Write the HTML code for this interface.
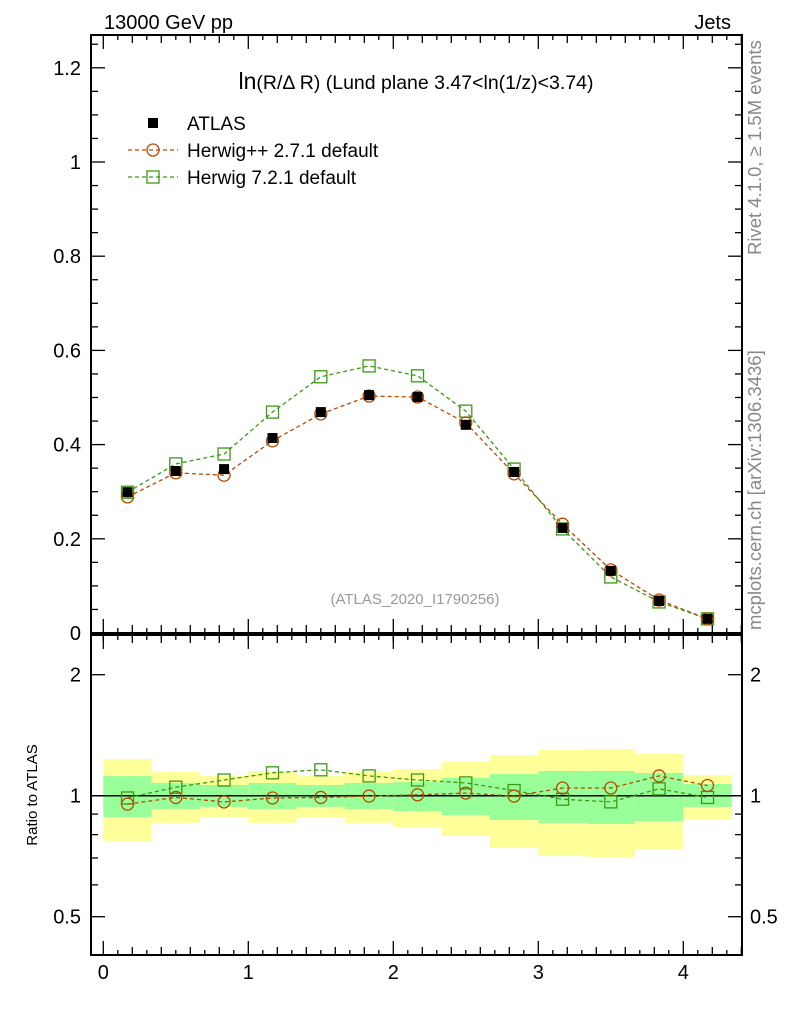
<!DOCTYPE html>
<html><head><meta charset="utf-8"><style>
body{margin:0;background:#fff;}
svg text{font-family:"Liberation Sans",sans-serif;}
</style></head><body>
<svg id="chart" width="786" height="1024" viewBox="0 0 786 1024" xmlns="http://www.w3.org/2000/svg">
<text x="104" y="29" font-size="20">13000 GeV pp</text>
<text x="731" y="29" font-size="20" text-anchor="end">Jets</text>
<text x="416" y="89" font-size="19.5" text-anchor="middle"><tspan font-size="23">ln</tspan>(R/Δ R) (Lund plane 3.47&lt;ln(1/z)&lt;3.74)</text>
<text transform="translate(761,255) rotate(-90)" font-size="18.5" fill="#888">Rivet 4.1.0, ≥ 1.5M events</text>
<text transform="translate(761,630) rotate(-90)" font-size="18.5" fill="#888">mcplots.cern.ch [arXiv:1306.3436]</text>
<text x="415" y="604" font-size="15" fill="#999" text-anchor="middle">(ATLAS_2020_I1790256)</text>
<text transform="translate(37,795) rotate(-90)" font-size="15" text-anchor="middle">Ratio to ATLAS</text>
<g id="bands"></g>
<g id="main"></g>
<g id="ratio"></g>
<g id="axes"></g>
<g>
<rect x="148" y="118" width="10" height="10" fill="#000"/>
<text x="187" y="130" font-size="19">ATLAS</text>
<line x1="128" y1="150" x2="178" y2="150" stroke="#b84a00" stroke-width="1.3" stroke-dasharray="4,3"/>
<circle cx="153" cy="150" r="6" fill="none" stroke="#b84a00" stroke-width="1.3"/>
<text x="187" y="157" font-size="19">Herwig++ 2.7.1 default</text>
<line x1="128" y1="177" x2="178" y2="177" stroke="#3a9a10" stroke-width="1.3" stroke-dasharray="4,3"/>
<rect x="147" y="171" width="12" height="12" fill="none" stroke="#3a9a10" stroke-width="1.3"/>
<text x="187" y="184" font-size="19">Herwig 7.2.1 default</text>
</g>
</svg>
<script>
const binCenters=[0.167,0.5,0.833,1.167,1.5,1.833,2.167,2.5,2.833,3.167,3.5,3.833,4.167];
const atlas=[0.299,0.344,0.348,0.414,0.469,0.505,0.501,0.442,0.342,0.223,0.132,0.068,0.030];
const herwigpp=[0.289,0.340,0.335,0.408,0.465,0.503,0.501,0.446,0.338,0.231,0.134,0.070,0.030];
const herwig7=[0.299,0.359,0.380,0.469,0.544,0.567,0.546,0.471,0.348,0.221,0.119,0.066,0.030];
const ratioPP=[0.953,0.99,0.965,0.987,0.99,0.998,1.005,1.015,0.998,1.045,1.045,1.12,1.06];
const ratio7=[0.987,1.05,1.094,1.14,1.16,1.12,1.094,1.076,1.03,0.98,0.965,1.04,0.99];
const bandTotalHi=[1.234,1.145,1.119,1.152,1.119,1.145,1.165,1.213,1.262,1.299,1.307,1.270,1.126];
const bandTotalLo=[0.772,0.856,0.885,0.856,0.880,0.856,0.836,0.794,0.741,0.708,0.704,0.737,0.875];
const bandStatHi=[1.119,1.076,1.063,1.076,1.063,1.076,1.081,1.107,1.132,1.152,1.152,1.139,1.069];
const bandStatLo=[0.885,0.927,0.938,0.927,0.938,0.927,0.916,0.895,0.870,0.856,0.851,0.865,0.938];
const xTickLabels=[0,1,2,3,4];
const yTickLabels=[0,0.2,0.4,0.6,0.8,1,1.2];
const ratioTickLabels=[0.5,1,2];

const NS="http://www.w3.org/2000/svg";
const L=91,R=742,T=35,MB=633,RT=635,RB=955;
const X=v=>103.3+v*145;
const Y=v=>MB-v*471;
const RY=v=>795.7-Math.log2(v)*121;
const binW=1/3;
function mk(tag,attrs,parent){const e=document.createElementNS(NS,tag);for(const k in attrs)e.setAttribute(k,attrs[k]);document.getElementById(parent).appendChild(e);return e;}

binCenters.forEach((c,i)=>{
  let e=mk('rect',{x:X(c-binW/2),y:RY(bandTotalHi[i]),width:X(c+binW/2)-X(c-binW/2),height:RY(bandTotalLo[i])-RY(bandTotalHi[i]),fill:'#ffff99'},'bands');
  
  
  e=mk('rect',{x:X(c-binW/2),y:RY(bandStatHi[i]),width:X(c+binW/2)-X(c-binW/2),height:RY(bandStatLo[i])-RY(bandStatHi[i]),fill:'#99ff99'},'bands');
  
  
});
let ul=mk('line',{x1:L,x2:R,y1:RY(1),y2:RY(1),stroke:'#000','stroke-width':1.5},'bands');



function series(vals,yf,color,shape,g,name){
  const p=mk('polyline',{points:binCenters.map((c,i)=>X(c)+','+yf(vals[i])).join(' '),fill:'none',stroke:color,'stroke-width':1.3,'stroke-dasharray':'4,3'},g);
  
  
  binCenters.forEach((c,i)=>{
    let m;
    if(shape==='circle') m=mk('circle',{cx:X(c),cy:yf(vals[i]),r:6,fill:'none',stroke:color,'stroke-width':1.3},g);
    else m=mk('rect',{x:X(c)-6,y:yf(vals[i])-6,width:12,height:12,fill:'none',stroke:color,'stroke-width':1.3},g);
    
    
  });
}
series(herwig7,Y,'#3a9a10','square','main','herwig7');
series(herwigpp,Y,'#b84a00','circle','main','herwigpp');
binCenters.forEach((c,i)=>{
  const m=mk('rect',{x:X(c)-5,y:Y(atlas[i])-5,width:10,height:10,fill:'#000'},'main');
  
  
});
series(ratio7,RY,'#3a9a10','square','ratio','herwig7-ratio');
series(ratioPP,RY,'#b84a00','circle','ratio','herwigpp-ratio');

[[T,MB,'main-frame'],[RT,RB,'ratio-frame']].forEach(f=>{
  const r=mk('rect',{x:L,y:f[0],width:R-L,height:f[1]-f[0],fill:'none',stroke:'#000','stroke-width':2},'axes');
  
  
});
function tick(x1,y1,x2,y2){const t=mk('line',{x1,y1,x2,y2,stroke:'#000','stroke-width':1.3},'axes');}
for(let k=0;k<=25;k++){const v=k*0.05,y=Y(v);if(y<T)break;const len=(k%4===0)?14:7;tick(L,y,L+len,y);tick(R,y,R-len,y);}
yTickLabels.forEach(v=>{const t=mk('text',{x:L-10,y:Y(v)+7,'font-size':20,'text-anchor':'end'},'axes');t.textContent=String(v);});
for(let k=0;k<=44;k++){const v=k*0.1,x=X(v);if(x>R)break;const len=(k%10===0)?14:(k%2===0?8:5);
  tick(x,MB,x,MB-len);tick(x,MB,x,MB+len*0.6);tick(x,RB,x,RB-len);tick(x,RT,x,RT+len);tick(x,T,x,T+len);}
xTickLabels.forEach(v=>{const t=mk('text',{x:X(v),y:979,'font-size':20,'text-anchor':'middle'},'axes');t.textContent=String(v);});
[0.5,0.6,0.7,0.8,0.9,1,2].forEach(v=>{const y=RY(v);const len=(v===0.5||v===1||v===2)?14:7;tick(L,y,L+len,y);tick(R,y,R-len,y);});
ratioTickLabels.forEach(v=>{
  let t=mk('text',{x:L-10,y:RY(v)+7,'font-size':20,'text-anchor':'end'},'axes');t.textContent=String(v);
  t=mk('text',{x:R+8,y:RY(v)+7,'font-size':20},'axes');t.textContent=String(v);
});
</script>
</body></html>
